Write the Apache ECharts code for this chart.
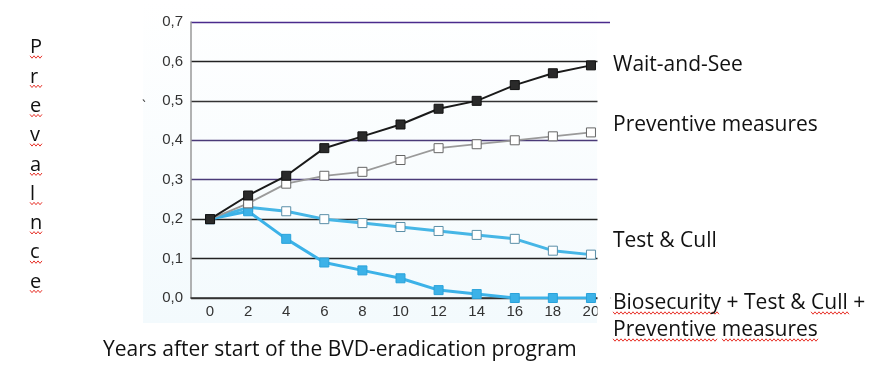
<!DOCTYPE html>
<html><head><meta charset="utf-8">
<script src="https://cdn.jsdelivr.net/npm/echarts@6/dist/echarts.min.js"></script>
<style>html,body{margin:0;padding:0;background:#fff}#c{width:881px;height:371px}</style>
</head><body><div id="c"></div>
<script>
const years = ['0','2','4','6','8','10','12','14','16','18','20'];
const waitAndSee = [0.20,0.26,0.31,0.38,0.41,0.44,0.48,0.50,0.54,0.57,0.59];
const preventive = [0.20,0.24,0.29,0.31,0.32,0.35,0.38,0.39,0.40,0.41,0.42];
const testCull = [0.20,0.23,0.22,0.20,0.19,0.18,0.17,0.16,0.15,0.12,0.11];
const bioAll = [0.20,0.22,0.15,0.09,0.07,0.05,0.02,0.01,0.00,0.00,0.00];
const yTicks = ['0,0','0,1','0,2','0,3','0,4','0,5','0,6','0,7'];

const FONT = '"Open Sans", "Noto Sans", sans-serif';
const chart = echarts.init(document.getElementById('c'));

function wavy(x0, x1, y) {
  const pts = [];
  let up = true;
  for (let x = x0; x <= x1; x += 2) { pts.push([x, up ? y - 1.2 : y + 1.2]); up = !up; }
  return { type: 'polyline', shape: { points: pts }, style: { stroke: '#e8332a', lineWidth: 1, fill: null }, z: 10 };
}

const graphics = [
  { type: 'rect', shape: { x: 143, y: 0, width: 454, height: 323 }, style: { fill: new echarts.graphic.LinearGradient(0,0,0,1,[{offset:0,color:'#ffffff'},{offset:1,color:'#f3fafd'}]) }, z: -10, silent: true },
  { type: 'rect', shape: { x: 597.5, y: 30, width: 13, height: 292 }, style: { fill: '#ffffff' }, z: 100 },
  { type: 'text', left: 613, top: 55, style: { text: 'Wait-and-See', font: '21px ' + FONT, fill: '#111' }, z: 101 },
  { type: 'text', left: 613, top: 115, style: { text: 'Preventive measures', font: '21px ' + FONT, fill: '#111' }, z: 101 },
  { type: 'text', left: 613, top: 231, style: { text: 'Test & Cull', font: '21px ' + FONT, fill: '#111' }, z: 101 },
  { type: 'text', left: 613, top: 290, style: { text: 'Biosecurity + Test & Cull +\nPreventive measures', font: '21px ' + FONT, lineHeight: 27, fill: '#111' }, z: 101 },
  { type: 'text', left: 103, top: 340, style: { text: 'Years after start of the BVD-eradication program', font: '21px ' + FONT, fill: '#111' }, z: 101 },
  { type: 'text', left: 30, top: 33, style: { text: 'P\nr\ne\nv\na\nl\nn\nc\ne', font: '20px ' + FONT, lineHeight: 29.3, fill: '#111' }, z: 101 },
  { type: 'text', left: 142, top: 100, style: { text: '`', font: '14px ' + FONT, fill: '#333' }, z: 101 }
];
// spelling underlines
for (let i = 0; i < 9; i++) graphics.push(wavy(30, 42, 57 + i * 29.3));
graphics.push(wavy(613, 720, 313), wavy(811, 850, 313), wavy(613, 717, 340), wavy(722, 818, 340));

chart.setOption({
  animation: false,
  backgroundColor: '#ffffff',
  grid: { left: 191, right: 271, top: 22, bottom: 73, containLabel: false },
  xAxis: {
    type: 'category', data: years, boundaryGap: true,
    axisLine: { lineStyle: { color: '#333', width: 1.5 } },
    axisTick: { inside: true, length: 6, lineStyle: { color: '#333' } },
    axisLabel: { color: '#333', fontFamily: '"Liberation Sans", Arial, sans-serif', fontSize: 15, margin: 6 }
  },
  yAxis: {
    type: 'value', min: 0, max: 0.7, interval: 0.1,
    axisLine: { show: true, lineStyle: { color: '#999', width: 1.5 } },
    axisTick: { show: false },
    axisLabel: { color: '#333', fontFamily: '"Liberation Sans", Arial, sans-serif', fontSize: 15, margin: 8,
      formatter: (v) => yTicks[Math.round(v * 10)] },
    splitLine: { lineStyle: { width: 1.3, color: ['#333','#222','#222','#4a3a78','#4a3a78','#333','#222','#4a2a8c'] } }
  },
  series: [
    { name: 'Wait-and-See', type: 'line', data: waitAndSee, symbol: 'rect', symbolSize: 9,
      lineStyle: { color: '#1a1a1a', width: 2 }, itemStyle: { color: '#2a2a2a', borderColor: '#111', borderWidth: 1 }, z: 5 },
    { name: 'Preventive measures', type: 'line', data: preventive, symbol: 'rect', symbolSize: 9,
      lineStyle: { color: '#9a9a9a', width: 1.8 }, itemStyle: { color: '#ffffff', borderColor: '#666', borderWidth: 1 }, z: 4 },
    { name: 'Test & Cull', type: 'line', data: testCull, symbol: 'rect', symbolSize: 9,
      lineStyle: { color: '#46b6e6', width: 3 }, itemStyle: { color: '#ffffff', borderColor: '#5a8fa8', borderWidth: 1 }, z: 3 },
    { name: 'Biosecurity + Test & Cull + Preventive measures', type: 'line', data: bioAll, symbol: 'rect', symbolSize: 9,
      lineStyle: { color: '#3cb2e8', width: 3 }, itemStyle: { color: '#3cb2e8', borderColor: '#2aa2da', borderWidth: 1 }, z: 3 }
  ],
  graphic: graphics
});
</script></body></html>
